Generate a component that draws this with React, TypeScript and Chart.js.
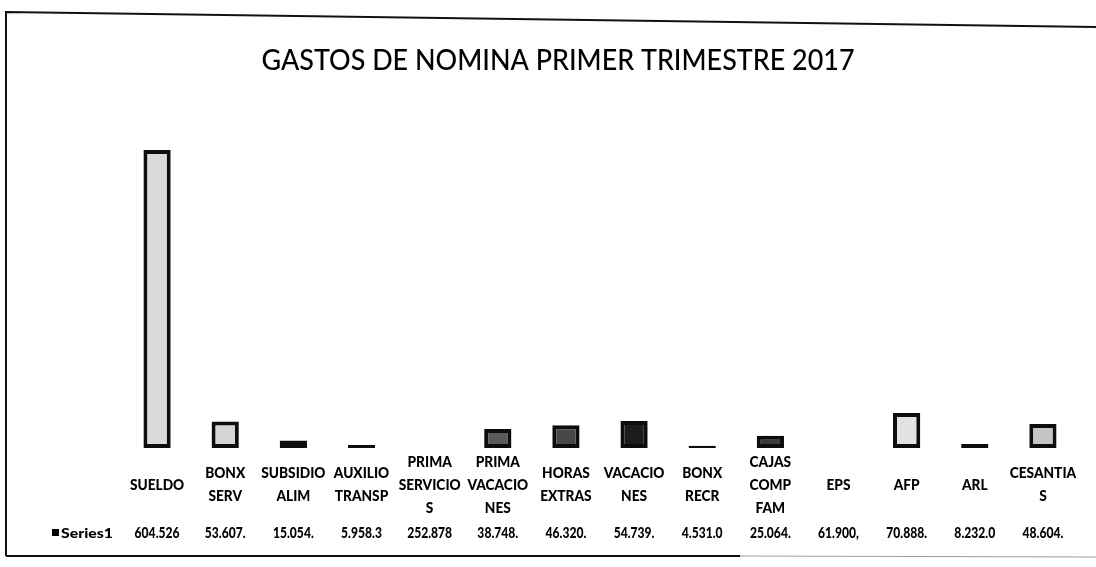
import React, { useEffect, useRef } from "react";
import { Chart, registerables } from "chart.js";

Chart.register(...registerables);

const TITLE = "GASTOS DE NOMINA PRIMER TRIMESTRE 2017";
const SERIES_NAME = "Series1";

const categories: string[][] = [
  ["SUELDO"],
  ["BONX", "SERV"],
  ["SUBSIDIO", "ALIM"],
  ["AUXILIO", "TRANSP"],
  ["PRIMA", "SERVICIO", "S"],
  ["PRIMA", "VACACIO", "NES"],
  ["HORAS", "EXTRAS"],
  ["VACACIO", "NES"],
  ["BONX", "RECR"],
  ["CAJAS", "COMP", "FAM"],
  ["EPS"],
  ["AFP"],
  ["ARL"],
  ["CESANTIA", "S"],
];

const values: number[] = [
  604526000, 53607000, 15054000, 5958300, 252878, 38748000, 46320000,
  54739000, 4531000, 25064000, 61900, 70888000, 8232000, 48604000,
];

const tableLabels: string[] = [
  "604.526", "53.607.", "15.054.", "5.958.3", "252.878", "38.748.", "46.320.",
  "54.739.", "4.531.0", "25.064.", "61.900,", "70.888.", "8.232.0", "48.604.",
];

const barFills: string[] = [
  "#d9d9d9", "#d4d4d4", "#111111", "#111111", "#cfcfcf", "#5a5a5a", "#474747",
  "#1c1c1c", "#111111", "#3a3a3a", "#cfcfcf", "#e2e2e2", "#111111", "#c4c4c4",
];

const Y_MAX = 700000000;

function fitText(ctx: CanvasRenderingContext2D, text: string, x: number, y: number, sx: number) {
  ctx.save();
  ctx.translate(x, y);
  ctx.scale(sx, 1);
  ctx.fillText(text, 0, 0);
  ctx.restore();
}

const decorPlugin = {
  id: "decor",
  afterDraw(chart: any) {
    const ctx: CanvasRenderingContext2D = chart.ctx;
    const xs = chart.scales.x;
    ctx.save();
    // frame
    ctx.strokeStyle = "#111";
    ctx.lineWidth = 2;
    ctx.beginPath();
    ctx.moveTo(6, 556);
    ctx.lineTo(6, 12);
    ctx.lineTo(1096, 27);
    ctx.stroke();
    ctx.beginPath();
    ctx.moveTo(6, 556);
    ctx.lineTo(740, 556);
    ctx.stroke();
    ctx.strokeStyle = "#9a9a9a";
    ctx.lineWidth = 1;
    ctx.beginPath();
    ctx.moveTo(740, 556);
    ctx.lineTo(1096, 557);
    ctx.stroke();

    ctx.fillStyle = "#000";
    // title
    ctx.font = "500 28px Lato";
    ctx.textAlign = "center";
    ctx.textBaseline = "alphabetic";
    const tw = ctx.measureText(TITLE).width;
    fitText(ctx, TITLE, 558, 70, 593 / tw);

    // category labels
    ctx.font = "900 15px Lato";
    ctx.textBaseline = "middle";
    const lsx = 62 / ctx.measureText("SERVICIO").width;
    const lineH = 23;
    categories.forEach((lines, i) => {
      const cx = xs.getPixelForValue(i);
      const y0 = 485 - ((lines.length - 1) * lineH) / 2;
      lines.forEach((ln, j) => fitText(ctx, ln, cx, y0 + j * lineH, lsx));
    });

    // data table values
    const vsx = 45 / ctx.measureText("604.526").width;
    tableLabels.forEach((t, i) => {
      fitText(ctx, t, xs.getPixelForValue(i), 533, vsx);
    });

    // legend key
    ctx.fillRect(52, 529, 7, 7);
    ctx.textAlign = "left";
    ctx.font = "900 14px Lato";
    const ssx = 52 / ctx.measureText(SERIES_NAME).width;
    fitText(ctx, SERIES_NAME, 61, 533, ssx);
    ctx.restore();
  },
};

export default function App() {
  const ref = useRef<HTMLCanvasElement | null>(null);
  useEffect(() => {
    if (!ref.current) return;
    const chart = new Chart(ref.current, {
      type: "bar",
      data: {
        labels: categories.map((c) => c.join(" ")),
        datasets: [
          {
            label: SERIES_NAME,
            data: values,
            backgroundColor: barFills,
            borderColor: "#0d0d0d",
            borderWidth: 4,
            borderSkipped: false,
            barPercentage: 0.4,
            categoryPercentage: 1,
          },
        ],
      },
      options: {
        responsive: false,
        animation: false,
        layout: { padding: { left: 123, right: 19, top: 103, bottom: 119 } },
        scales: {
          x: { display: false },
          y: { display: false, min: 0, max: Y_MAX },
        },
        plugins: {
          legend: { display: false },
          title: { display: false },
          tooltip: { enabled: false },
        },
      },
      plugins: [decorPlugin],
    });
    return () => chart.destroy();
  }, []);
  return (
    <div style={{ position: "fixed", left: 0, top: 0, width: 1096, height: 567, background: "#fff" }}>
      <canvas ref={ref} width={1096} height={567} />
    </div>
  );
}
